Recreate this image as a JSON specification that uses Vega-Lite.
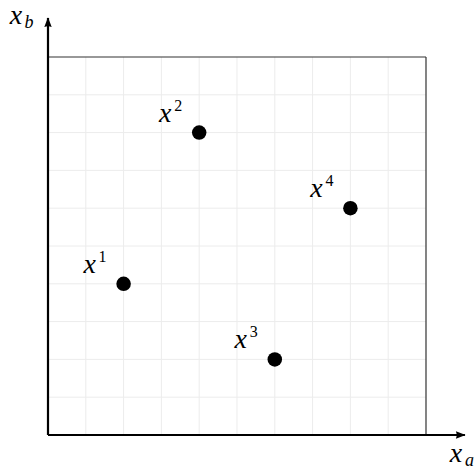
{
  "$schema": "https://vega.github.io/schema/vega-lite/v6.json",
  "width": 476,
  "height": 466,
  "autosize": "none",
  "padding": 0,
  "background": "white",
  "config": {"view": {"stroke": null}, "text": {"font": "serif"}},
  "datasets": {
    "points": [
      {"label": "1", "a": 2, "b": 4},
      {"label": "2", "a": 4, "b": 8},
      {"label": "3", "a": 6, "b": 2},
      {"label": "4", "a": 8, "b": 6}
    ],
    "grid": [
      {"v": 1, "lo": 0, "hi": 10}, {"v": 2, "lo": 0, "hi": 10}, {"v": 3, "lo": 0, "hi": 10},
      {"v": 4, "lo": 0, "hi": 10}, {"v": 5, "lo": 0, "hi": 10}, {"v": 6, "lo": 0, "hi": 10},
      {"v": 7, "lo": 0, "hi": 10}, {"v": 8, "lo": 0, "hi": 10}, {"v": 9, "lo": 0, "hi": 10}
    ],
    "frame": [{"lo": 0, "hi": 10}],
    "axisA": [{"main": "x", "sub": "a", "a0": 0, "a": 11.03, "b": 0}],
    "axisB": [{"main": "x", "sub": "b", "a": 0, "b0": 0, "b": 11.03}]
  },
  "layer": [
    {
      "data": {"name": "grid"},
      "mark": {"type": "rule", "stroke": "#ececec", "strokeWidth": 1},
      "encoding": {
        "x": {"field": "v", "type": "quantitative", "scale": {"domain": [-1.2698, 11.3228], "nice": false, "zero": false}, "axis": null},
        "y": {"field": "lo", "type": "quantitative", "scale": {"domain": [-0.8201, 11.508], "nice": false, "zero": false}, "axis": null},
        "y2": {"field": "hi"}
      }
    },
    {
      "data": {"name": "grid"},
      "mark": {"type": "rule", "stroke": "#ececec", "strokeWidth": 1},
      "encoding": {
        "y": {"field": "v", "type": "quantitative"},
        "x": {"field": "lo", "type": "quantitative"},
        "x2": {"field": "hi"}
      }
    },
    {
      "data": {"name": "frame"},
      "mark": {"type": "rule", "stroke": "#333333", "strokeWidth": 1.2},
      "encoding": {
        "x": {"field": "hi", "type": "quantitative"},
        "y": {"field": "lo", "type": "quantitative"},
        "y2": {"field": "hi"}
      }
    },
    {
      "data": {"name": "frame"},
      "mark": {"type": "rule", "stroke": "#333333", "strokeWidth": 1.2},
      "encoding": {
        "y": {"field": "hi", "type": "quantitative"},
        "x": {"field": "lo", "type": "quantitative"},
        "x2": {"field": "hi"}
      }
    },
    {
      "data": {"name": "axisB"},
      "mark": {"type": "rule", "stroke": "black", "strokeWidth": 2.2},
      "encoding": {
        "x": {"field": "a", "type": "quantitative"},
        "y": {"field": "b0", "type": "quantitative"},
        "y2": {"field": "b"}
      }
    },
    {
      "data": {"name": "axisA"},
      "mark": {"type": "rule", "stroke": "black", "strokeWidth": 2.2},
      "encoding": {
        "y": {"field": "b", "type": "quantitative"},
        "x": {"field": "a0", "type": "quantitative"},
        "x2": {"field": "a"}
      }
    },
    {
      "data": {"name": "axisB"},
      "mark": {"type": "point", "shape": "M0,-1L0.55,0.45L0,0.3L-0.55,0.45Z", "filled": true, "fill": "black", "strokeWidth": 0, "size": 180, "opacity": 1, "yOffset": 6},
      "encoding": {
        "x": {"field": "a", "type": "quantitative"},
        "y": {"field": "b", "type": "quantitative"}
      }
    },
    {
      "data": {"name": "axisA"},
      "mark": {"type": "point", "shape": "M1,0L-0.45,0.55L-0.3,0L-0.45,-0.55Z", "filled": true, "fill": "black", "strokeWidth": 0, "size": 180, "opacity": 1, "xOffset": -6},
      "encoding": {
        "x": {"field": "a", "type": "quantitative"},
        "y": {"field": "b", "type": "quantitative"}
      }
    },
    {
      "data": {"name": "axisB"},
      "mark": {"type": "text", "font": "serif", "fontStyle": "italic", "fontSize": 28, "align": "center", "baseline": "alphabetic", "dx": -32, "dy": 6, "color": "black"},
      "encoding": {
        "x": {"field": "a", "type": "quantitative"},
        "y": {"field": "b", "type": "quantitative"},
        "text": {"field": "main"}
      }
    },
    {
      "data": {"name": "axisB"},
      "mark": {"type": "text", "font": "serif", "fontStyle": "italic", "fontSize": 18, "align": "center", "baseline": "alphabetic", "dx": -19, "dy": 10, "color": "black"},
      "encoding": {
        "x": {"field": "a", "type": "quantitative"},
        "y": {"field": "b", "type": "quantitative"},
        "text": {"field": "sub"}
      }
    },
    {
      "data": {"name": "axisA"},
      "mark": {"type": "text", "font": "serif", "fontStyle": "italic", "fontSize": 28, "align": "center", "baseline": "alphabetic", "dx": -9, "dy": 27, "color": "black"},
      "encoding": {
        "x": {"field": "a", "type": "quantitative"},
        "y": {"field": "b", "type": "quantitative"},
        "text": {"field": "main"}
      }
    },
    {
      "data": {"name": "axisA"},
      "mark": {"type": "text", "font": "serif", "fontStyle": "italic", "fontSize": 18, "align": "left", "baseline": "alphabetic", "dx": 0, "dy": 31, "color": "black"},
      "encoding": {
        "x": {"field": "a", "type": "quantitative"},
        "y": {"field": "b", "type": "quantitative"},
        "text": {"field": "sub"}
      }
    },
    {
      "data": {"name": "points"},
      "mark": {"type": "circle", "color": "black", "opacity": 1, "size": 210},
      "encoding": {
        "x": {"field": "a", "type": "quantitative"},
        "y": {"field": "b", "type": "quantitative"}
      }
    },
    {
      "data": {"name": "points"},
      "mark": {"type": "text", "font": "serif", "fontStyle": "italic", "fontSize": 28, "align": "center", "baseline": "alphabetic", "dx": -34, "dy": -11, "color": "black", "text": "x"},
      "encoding": {
        "x": {"field": "a", "type": "quantitative"},
        "y": {"field": "b", "type": "quantitative"}
      }
    },
    {
      "data": {"name": "points"},
      "mark": {"type": "text", "font": "serif", "fontSize": 16, "align": "center", "baseline": "alphabetic", "dx": -21, "dy": -22, "color": "black"},
      "encoding": {
        "x": {"field": "a", "type": "quantitative"},
        "y": {"field": "b", "type": "quantitative"},
        "text": {"field": "label"}
      }
    }
  ]
}
